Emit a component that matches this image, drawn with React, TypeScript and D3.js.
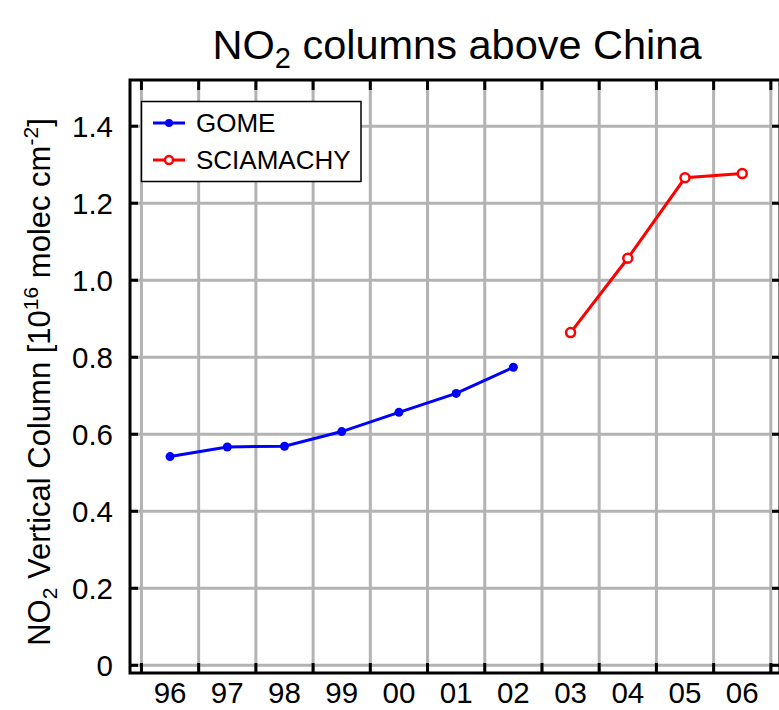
import React from "react";
import * as d3 from "d3";

const gomeYears = [1996, 1997, 1998, 1999, 2000, 2001, 2002];
const gomeValues = [0.542, 0.567, 0.569, 0.607, 0.657, 0.706, 0.774];
const sciaYears = [2003, 2004, 2005, 2006];
const sciaValues = [0.864, 1.057, 1.266, 1.277];
const yTicks = [0, 0.2, 0.4, 0.6, 0.8, 1.0, 1.2, 1.4];
const yTickLabels = ["0", "0.2", "0.4", "0.6", "0.8", "1.0", "1.2", "1.4"];
const xGridYears = d3.range(1996, 2008);
const xLabelYears = d3.range(1996, 2007);
const xTickLabels = ["96", "97", "98", "99", "00", "01", "02", "03", "04", "05", "06"];

const W = 779;
const H = 710;
const left = 130;
const right = 780;
const top = 80;
const bottom = 673;
const font = "'Liberation Sans', Arial, Helvetica, sans-serif";

const App = () => {
  const x = d3.scaleLinear().domain([1995.8, 2007.16]).range([left, right]);
  const y = d3.scaleLinear().domain([-0.02, 1.52]).range([bottom, top]);

  const line = d3
    .line<[number, number]>()
    .x((d) => x(d[0] + 0.5))
    .y((d) => y(d[1]));

  const gome = gomeYears.map((yr, i) => [yr, gomeValues[i]] as [number, number]);
  const scia = sciaYears.map((yr, i) => [yr, sciaValues[i]] as [number, number]);

  return (
    <svg
      width={W}
      height={H}
      style={{ position: "absolute", left: 0, top: 0, background: "#fff" }}
      fontFamily={font}
    >
      <rect x={0} y={0} width={W} height={H} fill="#fff" />
      {/* grid */}
      {xGridYears.map((yr) => (
        <line key={"gx" + yr} x1={x(yr)} x2={x(yr)} y1={top} y2={bottom} stroke="#b3b3b3" strokeWidth={3} />
      ))}
      {yTicks.map((v) => (
        <line key={"gy" + v} x1={left} x2={right} y1={y(v)} y2={y(v)} stroke="#b3b3b3" strokeWidth={3} />
      ))}

      {/* ticks */}
      {xGridYears.map((yr) => (
        <g key={"tx" + yr} stroke="#000" strokeWidth={3}>
          <line x1={x(yr)} x2={x(yr)} y1={top} y2={top + 10} />
          <line x1={x(yr)} x2={x(yr)} y1={bottom} y2={bottom - 10} />
        </g>
      ))}
      {yTicks.map((v) => (
        <g key={"ty" + v} stroke="#000" strokeWidth={3}>
          <line x1={left} x2={left + 8} y1={y(v)} y2={y(v)} />
          <line x1={right} x2={right - 8} y1={y(v)} y2={y(v)} />
        </g>
      ))}

      {/* frame */}
      <rect x={left} y={top} width={right - left} height={bottom - top} fill="none" stroke="#000" strokeWidth={3} />

      {/* series */}
      <path d={line(gome) as string} fill="none" stroke="#0000ff" strokeWidth={3} />
      {gome.map((d, i) => (
        <circle key={"g" + i} cx={x(d[0] + 0.5)} cy={y(d[1])} r={4.5} fill="#0000ff" />
      ))}
      <path d={line(scia) as string} fill="none" stroke="#ff0000" strokeWidth={3} />
      {scia.map((d, i) => (
        <circle key={"s" + i} cx={x(d[0] + 0.5)} cy={y(d[1])} r={4.5} fill="#fff" stroke="#ff0000" strokeWidth={2.5} />
      ))}

      {/* tick labels */}
      {yTicks.map((v, i) => (
        <text key={"ly" + v} x={113} y={y(v)} dy="0.36em" textAnchor="end" fontSize={29.5}>
          {yTickLabels[i]}
        </text>
      ))}
      {xLabelYears.map((yr, i) => (
        <text key={"lx" + yr} x={x(yr + 0.5)} y={703} textAnchor="middle" fontSize={29.5}>
          {xTickLabels[i]}
        </text>
      ))}

      {/* legend */}
      <rect x={141.5} y={101.5} width={219.5} height={80} fill="#fff" stroke="#000" strokeWidth={1.5} />
      <line x1={153} x2={185} y1={123} y2={123} stroke="#0000ff" strokeWidth={3} />
      <circle cx={169} cy={123} r={4} fill="#0000ff" />
      <text x={196} y={132} fontSize={26}>GOME</text>
      <line x1={153} x2={185} y1={160} y2={160} stroke="#ff0000" strokeWidth={3} />
      <circle cx={169} cy={160} r={4} fill="#fff" stroke="#ff0000" strokeWidth={2.5} />
      <text x={196} y={169} fontSize={26}>SCIAMACHY</text>

      {/* title */}
      <text x={457} y={59} textAnchor="middle" fontSize={41.5}>
        NO<tspan fontSize={29} dy={9}>2</tspan>
        <tspan dy={-9}> columns above China</tspan>
      </text>

      {/* y axis label */}
      <text transform="translate(50,382) rotate(-90)" textAnchor="middle" fontSize={31}>
        NO<tspan fontSize={21} dy={7}>2</tspan>
        <tspan dy={-7}> Vertical Column [10</tspan>
        <tspan fontSize={21} dy={-12}>16</tspan>
        <tspan dy={12}> molec cm</tspan>
        <tspan fontSize={21} dy={-12}>-2</tspan>
        <tspan dy={12}>]</tspan>
      </text>
    </svg>
  );
};

export default App;
